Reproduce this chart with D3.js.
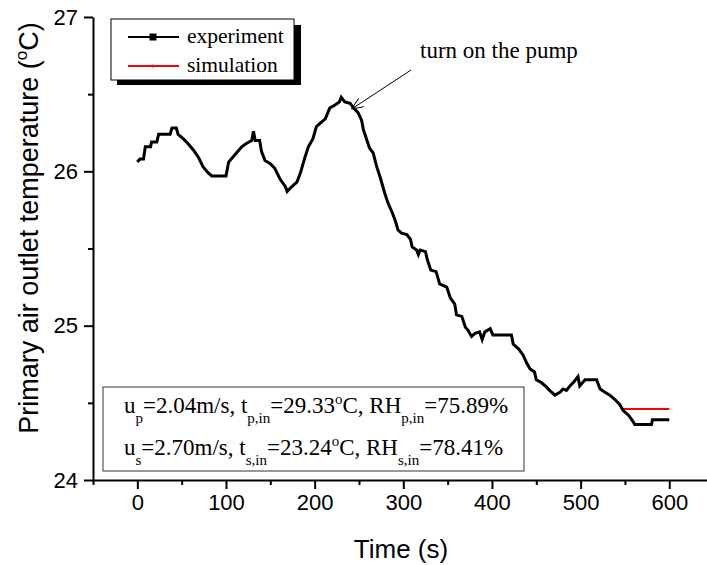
<!DOCTYPE html>
<html>
<head>
<meta charset="utf-8">
<script src="https://cdn.jsdelivr.net/npm/d3@7"></script>
<style>
  body { margin: 0; background: #fff; }
  svg { display: block; }
</style>
</head>
<body>
<div id="chart"></div>
<script>
// experiment: time (s) and outlet temperature (°C)
const expTime = [0, 3, 7, 9, 15, 16, 22, 24, 37, 39, 44, 46, 52, 57, 63, 69, 74, 80, 84, 100,
  103, 106, 112, 118, 123, 129, 131, 133, 138, 140, 144, 150, 155, 161, 167, 169, 174, 180, 184, 189,
  193, 198, 202, 208, 212, 217, 223, 228, 230, 234, 240, 244, 249, 253, 255, 259, 262, 266, 270, 274,
  279, 283, 287, 291, 294, 298, 304, 308, 310, 315, 317, 319, 325, 327, 331, 337, 341, 349, 353, 358,
  360, 366, 370, 373, 377, 381, 386, 389, 392, 398, 401, 422, 424, 430, 435, 439, 443, 448, 450, 456,
  462, 465, 471, 477, 480, 484, 488, 493, 497, 499, 505, 518, 522, 527, 533, 539, 544, 548, 554, 559,
  561, 580, 581, 600];
const expTemp = [26.06, 26.08, 26.08, 26.16, 26.16, 26.19, 26.19, 26.24, 26.24, 26.28, 26.28, 26.24, 26.21, 26.18, 26.14, 26.09, 26.03, 25.99, 25.97, 25.97,
  26.06, 26.08, 26.12, 26.16, 26.18, 26.20, 26.26, 26.20, 26.20, 26.13, 26.07, 26.05, 26.02, 25.95, 25.90, 25.87, 25.90, 25.93, 25.99, 26.09,
  26.16, 26.21, 26.29, 26.32, 26.34, 26.41, 26.43, 26.45, 26.48, 26.45, 26.44, 26.41, 26.38, 26.33, 26.27, 26.20, 26.15, 26.12, 26.03, 25.96,
  25.86, 25.79, 25.74, 25.68, 25.62, 25.60, 25.59, 25.56, 25.51, 25.49, 25.46, 25.49, 25.48, 25.43, 25.36, 25.35, 25.27, 25.25, 25.18, 25.14,
  25.07, 25.06, 24.99, 24.97, 24.93, 24.95, 24.96, 24.91, 24.96, 24.98, 24.94, 24.94, 24.88, 24.85, 24.81, 24.76, 24.72, 24.70, 24.65, 24.63,
  24.60, 24.58, 24.55, 24.57, 24.59, 24.58, 24.61, 24.64, 24.67, 24.61, 24.65, 24.65, 24.59, 24.57, 24.55, 24.52, 24.49, 24.45, 24.42, 24.38,
  24.36, 24.36, 24.39, 24.39];

// simulation: flat prediction after the pump settles
const simTime = [548, 600];
const simTemp = [24.46, 24.46];

const xMajorTicks = [0, 100, 200, 300, 400, 500, 600];
const xMinorTicks = [-50, 50, 150, 250, 350, 450, 550, 650];
const yMajorTicks = [24, 25, 26, 27];
const yMinorTicks = [24.5, 25.5, 26.5];

const legendNames = ["experiment", "simulation"];
const annotationText = "turn on the pump";
const arrowTarget = [236, 26.41];

const W = 707, H = 565;
const sans = "'Liberation Sans', Arial, sans-serif";
const serif = "'Liberation Serif', 'Times New Roman', serif";

const svg = d3.select("#chart").append("svg")
  .attr("width", W).attr("height", H);

const x = d3.scaleLinear().domain([-50, 650]).range([93, 713.6]);
const y = d3.scaleLinear().domain([24, 27]).range([480, 17]);

// axes
function styleAxis(g) {
  g.select(".domain").attr("stroke", "#000").attr("stroke-width", 2);
  g.selectAll(".tick line").attr("stroke", "#000").attr("stroke-width", 2);
  g.selectAll(".tick text").attr("font-family", sans).attr("font-size", 22).attr("fill", "#000");
}

svg.append("g")
  .attr("transform", `translate(0,${y(24)})`)
  .call(d3.axisBottom(x).tickValues(xMinorTicks).tickFormat("").tickSize(5).tickSizeOuter(0))
  .call(styleAxis);
svg.append("g")
  .attr("transform", `translate(0,${y(24)})`)
  .call(d3.axisBottom(x).tickValues(xMajorTicks).tickSize(9).tickSizeOuter(0).tickPadding(5))
  .call(styleAxis)
  .call(g => g.select(".domain").remove());

svg.append("g")
  .attr("transform", `translate(${x(-50)},0)`)
  .call(d3.axisLeft(y).tickValues(yMinorTicks).tickFormat("").tickSize(5).tickSizeOuter(0))
  .call(styleAxis);
svg.append("g")
  .attr("transform", `translate(${x(-50)},0)`)
  .call(d3.axisLeft(y).tickValues(yMajorTicks).tickFormat(d3.format("d")).tickSize(9).tickSizeOuter(0).tickPadding(6))
  .call(styleAxis)
  .call(g => g.select(".domain").remove());

// axis titles
const yTitle = svg.append("text")
  .attr("transform", `translate(38,228) rotate(-90)`)
  .attr("text-anchor", "middle")
  .attr("font-family", sans).attr("font-size", 27);
yTitle.append("tspan").text("Primary air outlet temperature (");
yTitle.append("tspan").attr("font-size", 17).attr("dy", -11).text("o");
yTitle.append("tspan").attr("dy", 11).text("C)");

svg.append("text")
  .attr("x", 401).attr("y", 558)
  .attr("text-anchor", "middle")
  .attr("font-family", sans).attr("font-size", 26)
  .text("Time (s)");

// data lines
const line = d3.line().x(d => x(d[0])).y(d => y(d[1]));

svg.append("path")
  .datum(simTime.map((t, i) => [t, simTemp[i]]))
  .attr("fill", "none").attr("stroke", "#ff0000").attr("stroke-width", 2)
  .attr("d", line);

svg.append("path")
  .datum(expTime.map((t, i) => [t, expTemp[i]]))
  .attr("fill", "none").attr("stroke", "#000").attr("stroke-width", 3)
  .attr("stroke-linejoin", "miter")
  .attr("d", line);

// legend
const lg = svg.append("g");
lg.append("rect").attr("x", 117).attr("y", 25).attr("width", 184).attr("height", 60).attr("fill", "#000");
lg.append("rect").attr("x", 111).attr("y", 19).attr("width", 183).attr("height", 61)
  .attr("fill", "#fff").attr("stroke", "#000").attr("stroke-width", 1);
const legendColors = ["#000", "#ff0000"];
legendNames.forEach((name, i) => {
  const ly = 37 + i * 29;
  lg.append("line").attr("x1", 128).attr("x2", 179).attr("y1", ly).attr("y2", ly)
    .attr("stroke", legendColors[i]).attr("stroke-width", 2);
  if (i === 0) {
    lg.append("rect").attr("x", 149.5).attr("y", ly - 3.5).attr("width", 7).attr("height", 7).attr("fill", "#000");
  } else {
    lg.append("circle").attr("cx", 153).attr("cy", ly).attr("r", 1.5).attr("fill", "#ff0000");
  }
  lg.append("text").attr("x", 187).attr("y", ly + 6)
    .attr("font-family", serif).attr("font-size", 21.5).text(name);
});

// annotation
svg.append("defs").append("marker")
  .attr("id", "arrow").attr("viewBox", "0 0 12 10").attr("refX", 12).attr("refY", 5)
  .attr("markerWidth", 12).attr("markerHeight", 10).attr("markerUnits", "userSpaceOnUse")
  .attr("orient", "auto")
  .append("path").attr("d", "M0,0 L12,5 L0,10").attr("fill", "none").attr("stroke", "#000").attr("stroke-width", 1);
svg.append("line")
  .attr("x1", 411).attr("y1", 70)
  .attr("x2", x(arrowTarget[0]) + 5).attr("y2", y(arrowTarget[1]) + 1)
  .attr("stroke", "#000").attr("stroke-width", 1)
  .attr("marker-end", "url(#arrow)");
svg.append("text").attr("x", 420).attr("y", 58)
  .attr("font-family", serif).attr("font-size", 23).text(annotationText);

// condition box
svg.append("rect").attr("x", 103).attr("y", 387).attr("width", 421).attr("height", 84)
  .attr("fill", "#fff").attr("stroke", "#333").attr("stroke-width", 1);

const conditions = [
  [["u", ""], ["p", "sub"], ["=2.04m/s, t", ""], ["p,in", "sub"], ["=29.33", ""], ["o", "sup"], ["C, RH", ""], ["p,in", "sub"], ["=75.89%", ""]],
  [["u", ""], ["s", "sub"], ["=2.70m/s, t", ""], ["s,in", "sub"], ["=23.24", ""], ["o", "sup"], ["C, RH", ""], ["s,in", "sub"], ["=78.41%", ""]]
];
conditions.forEach((parts, i) => {
  const t = svg.append("text").attr("x", 124).attr("y", 413 + i * 42)
    .attr("font-family", serif).attr("font-size", 23);
  let shift = 0;
  parts.forEach(([s, kind]) => {
    const target = kind === "sub" ? 10 : kind === "sup" ? -9 : 0;
    t.append("tspan")
      .attr("dy", target - shift)
      .attr("font-size", kind ? 15 : 23)
      .text(s);
    shift = target;
  });
});
</script>
</body>
</html>
